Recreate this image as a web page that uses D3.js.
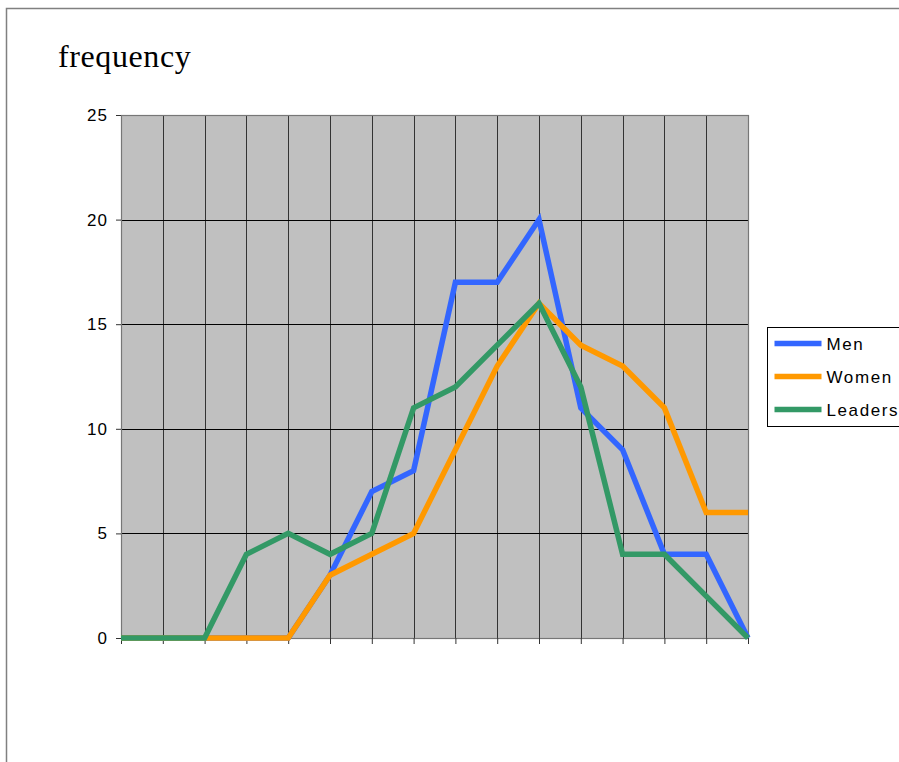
<!DOCTYPE html>
<html>
<head>
<meta charset="utf-8">
<script src="https://cdn.jsdelivr.net/npm/d3@7"></script>
<style>
  html, body { margin: 0; padding: 0; background: #fff; }
  svg { display: block; }
</style>
</head>
<body>
<div id="chart"></div>
<script>
// chart data
const categories = d3.range(1, 17);
const men = [0, 0, 0, 0, 0, 3, 7, 8, 17, 17, 20, 11, 9, 4, 4, 0];
const women = [0, 0, 0, 0, 0, 3, 4, 5, 9, 13, 16, 14, 13, 11, 6, 6];
const leaders = [0, 0, 0, 4, 5, 4, 5, 11, 12, 14, 16, 12, 4, 4, 2, 0];
const yTicks = [0, 5, 10, 15, 20, 25];

const series = [
  { name: 'Men', values: men, color: '#3366ff' },
  { name: 'Women', values: women, color: '#ff9900' },
  { name: 'Leaders', values: leaders, color: '#339966' },
];

const width = 899;
const height = 762;
const plot = { left: 121, right: 748, top: 115, bottom: 638 };

const svg = d3.select('#chart').append('svg')
  .attr('width', width)
  .attr('height', height);

// outer frame (goes past the window edges)
svg.append('rect')
  .attr('x', 6.5).attr('y', 8.5)
  .attr('width', 1000).attr('height', 1000)
  .attr('fill', '#fff')
  .attr('stroke', '#808080')
  .attr('stroke-width', 1.5);

svg.append('text')
  .attr('x', 58).attr('y', 67)
  .attr('font-family', '"Liberation Serif", "Times New Roman", serif')
  .attr('font-size', 32)
  .attr('letter-spacing', 0.6)
  .attr('fill', '#000')
  .text('frequency');

const x = d3.scalePoint()
  .domain(categories)
  .range([plot.left, plot.right]);

const y = d3.scaleLinear()
  .domain([0, 25])
  .range([plot.bottom, plot.top]);

// plot background
svg.append('rect')
  .attr('x', plot.left).attr('y', plot.top)
  .attr('width', plot.right - plot.left)
  .attr('height', plot.bottom - plot.top)
  .attr('fill', '#c0c0c0');

// gridlines
svg.append('g')
  .selectAll('line')
  .data(categories)
  .join('line')
  .attr('x1', (d) => Math.round(x(d)) + 0.5)
  .attr('x2', (d) => Math.round(x(d)) + 0.5)
  .attr('y1', plot.top)
  .attr('y2', plot.bottom)
  .attr('stroke', '#333')
  .attr('stroke-width', 1);

svg.append('g')
  .selectAll('line')
  .data(yTicks)
  .join('line')
  .attr('x1', plot.left)
  .attr('x2', plot.right)
  .attr('y1', (d) => Math.round(y(d)) + 0.5)
  .attr('y2', (d) => Math.round(y(d)) + 0.5)
  .attr('stroke', '#000')
  .attr('stroke-width', 1);

svg.append('rect')
  .attr('x', plot.left + 0.5).attr('y', plot.top + 0.5)
  .attr('width', plot.right - plot.left)
  .attr('height', plot.bottom - plot.top)
  .attr('fill', 'none')
  .attr('stroke', '#777')
  .attr('stroke-width', 1.2);

// axes
const yAxis = d3.axisLeft(y)
  .tickValues(yTicks)
  .tickSize(5)
  .tickPadding(8)
  .tickFormat(d3.format('d'));

const yg = svg.append('g')
  .attr('transform', `translate(${plot.left},0)`)
  .call(yAxis);
yg.select('.domain').remove();
yg.selectAll('text')
  .attr('font-family', '"Liberation Sans", Arial, sans-serif')
  .attr('font-size', 17)
  .attr('letter-spacing', 1)
  .attr('fill', '#000');

const xAxis = d3.axisBottom(x)
  .tickSize(6)
  .tickFormat('');

const xg = svg.append('g')
  .attr('transform', `translate(0,${plot.bottom})`)
  .call(xAxis);
xg.select('.domain').remove();

svg.selectAll('.tick line').attr('stroke', '#333');

// lines
const line = d3.line()
  .x((d, i) => x(categories[i]))
  .y((d) => y(d));

svg.append('g')
  .selectAll('path')
  .data(series)
  .join('path')
  .attr('d', (s) => line(s.values))
  .attr('fill', 'none')
  .attr('stroke', (s) => s.color)
  .attr('stroke-width', 5.5)
  .attr('stroke-linejoin', 'miter');

// legend
const legend = svg.append('g').attr('transform', 'translate(767.5,327.5)');
legend.append('rect')
  .attr('width', 150).attr('height', 99)
  .attr('fill', '#fff')
  .attr('stroke', '#000')
  .attr('stroke-width', 1);

const items = legend.selectAll('g.item')
  .data(series)
  .join('g')
  .attr('class', 'item')
  .attr('transform', (d, i) => `translate(0,${16 + i * 33})`);

items.append('line')
  .attr('x1', 7).attr('x2', 54)
  .attr('stroke', (d) => d.color)
  .attr('stroke-width', 5.5);

items.append('text')
  .attr('x', 59).attr('y', 6)
  .attr('font-family', '"Liberation Sans", Arial, sans-serif')
  .attr('font-size', 17)
  .attr('letter-spacing', 1.6)
  .attr('fill', '#000')
  .text((d) => d.name);
</script>
</body>
</html>
